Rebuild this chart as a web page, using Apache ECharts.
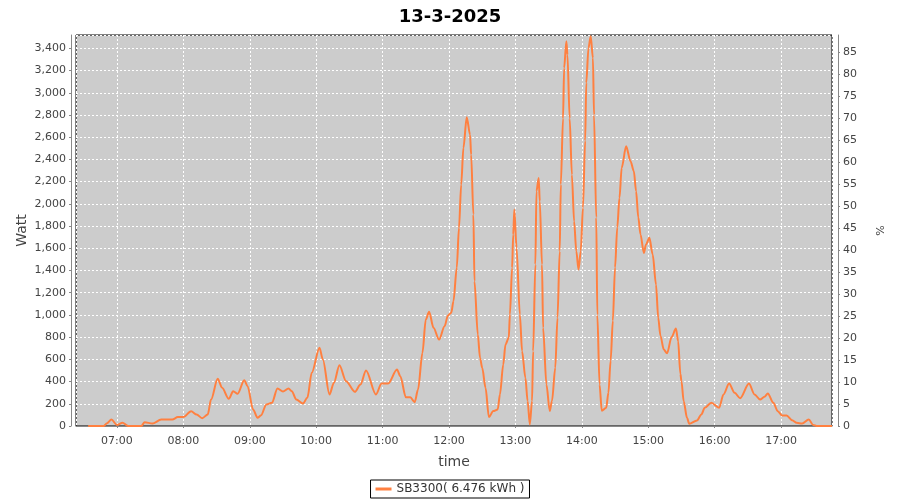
<!DOCTYPE html>
<html>
<head>
<meta charset="utf-8">
<script src="https://cdn.jsdelivr.net/npm/echarts@6/dist/echarts.min.js"></script>
<style>
html,body{margin:0;padding:0;background:#fff;}
#chart{width:900px;height:500px;}
</style>
</head>
<body>
<div id="chart"></div>
<script>
const titleText = '13-3-2025';
const seriesName = 'SB3300( 6.476 kWh )';
const times = ['06:34','06:48','06:51','06:55','07:00','07:05','07:10','07:22','07:25','07:32','07:40','07:50','07:55','08:00','08:07','08:12','08:17','08:22','08:25','08:31','08:35','08:41','08:45','08:49','08:55','08:58','09:03','09:07','09:10','09:15','09:20','09:25','09:30','09:35','09:38','09:42','09:48','09:52','09:56','10:03','10:06','10:12','10:16','10:21','10:27','10:35','10:40','10:45','10:54','10:59','11:05','11:13','11:16','11:21','11:25','11:29','11:32','11:36','11:39','11:42','11:46','11:51','11:56','11:59','12:02','12:04','12:07','12:09','12:11','12:13','12:16','12:19','12:20','12:22','12:23','12:26','12:28','12:30','12:33','12:36','12:40','12:44','12:46','12:49','12:51','12:54','12:55','12:57','12:58','12:59','13:01','13:04','13:06','13:09','13:11','13:13','13:15','13:16','13:18','13:19','13:21','13:22','13:24','13:25','13:28','13:31','13:33','13:36','13:38','13:40','13:41','13:43','13:44','13:46','13:47','13:49','13:51','13:53','13:55','13:57','13:59','14:01','14:03','14:04','14:06','14:08','14:10','14:11','14:13','14:14','14:16','14:18','14:22','14:24','14:26','14:28','14:30','14:32','14:34','14:36','14:40','14:44','14:47','14:49','14:51','14:53','14:56','14:58','15:01','15:04','15:07','15:09','15:11','15:14','15:17','15:21','15:25','15:27','15:29','15:30','15:32','15:35','15:37','15:44','15:48','15:51','15:57','16:04','16:08','16:13','16:18','16:23','16:31','16:36','16:41','16:45','16:48','16:53','16:57','17:01','17:05','17:10','17:14','17:19','17:25','17:29','17:32','17:46'];
const watts = [0,0,25,58,10,30,0,0,34,22,58,58,80,80,133,103,70,103,238,425,344,245,313,290,412,358,148,74,94,194,209,338,310,338,313,238,202,254,479,704,599,284,389,547,403,308,373,500,284,382,382,508,448,259,259,214,328,659,958,1028,884,778,898,995,1019,1123,1424,1784,2173,2504,2779,2623,2443,1904,1303,824,614,524,344,80,134,149,284,554,734,794,1004,1424,1724,1949,1604,1004,674,434,224,14,224,674,1454,2113,2233,2023,1454,884,374,134,224,524,974,1574,2173,2769,3224,3463,3341,2769,2263,1843,1574,1409,1574,1964,2568,3089,3404,3508,3314,2800,1877,1000,374,137,164,299,588,948,1428,1788,2054,2325,2518,2383,2293,2113,1878,1724,1558,1634,1694,1544,1274,974,813,689,654,798,877,763,470,403,223,74,20,50,104,164,209,164,284,382,299,250,382,284,238,263,292,209,133,94,94,52,29,22,58,10,0,0];
const leftTicksMax = 3520;
const rightTicksMax = 89;
const axisStart = '06:23';
const axisEnd = '17:46';

function ts(s){const p=s.split(':').map(Number);return new Date(2025,2,13,p[0],p[1]).getTime();}
function pad(n){return (n<10?'0':'')+n;}
const data = times.map((t,i)=>[ts(t), watts[i]]);

const chart = echarts.init(document.getElementById('chart'));
const labelFont = {color:'#444', fontSize:11, fontFamily:'DejaVu Sans'};
chart.setOption({
  backgroundColor:'#fff',
  animation:false,
  title:{text:titleText,left:'center',top:3,textStyle:{fontFamily:'DejaVu Sans',fontWeight:'bold',fontSize:18,color:'#000'}},
  grid:{left:76,right:68,top:35,bottom:74,show:true,backgroundColor:'#CCCCCC',borderColor:'#000',borderWidth:1},
  legend:{bottom:2,left:'center',data:[seriesName],icon:'rect',itemWidth:16,itemHeight:3,borderColor:'#000',borderWidth:1,padding:[3,5],borderRadius:0,
    textStyle:{fontFamily:'DejaVu Sans',fontSize:12,color:'#333'}},
  xAxis:{type:'time',min:ts(axisStart),max:ts(axisEnd),minInterval:3600000,maxInterval:3600000,offset:5,
    name:'time',nameLocation:'middle',nameGap:24,nameTextStyle:{fontFamily:'DejaVu Sans',fontSize:14,color:'#444'},
    axisLine:{lineStyle:{color:'#888'}},axisTick:{show:true,length:2,lineStyle:{color:'#888'}},
    axisLabel:Object.assign({margin:5,formatter:function(v){const d=new Date(v);return pad(d.getHours())+':'+pad(d.getMinutes());}},labelFont),
    splitLine:{show:true,lineStyle:{color:'#fff',type:[2,2],width:1}}},
  yAxis:[
    {type:'value',min:0,max:leftTicksMax,interval:200,offset:5,position:'left',
     name:'Watt',nameLocation:'middle',nameGap:42,nameMoveOverlap:false,nameTextStyle:{fontFamily:'DejaVu Sans',fontSize:14,color:'#444'},
     axisLine:{show:true,lineStyle:{color:'#888'}},axisTick:{show:true,length:2,lineStyle:{color:'#888'}},
     axisLabel:Object.assign({margin:5,showMaxLabel:false},labelFont),
     splitLine:{show:true,lineStyle:{color:'#fff',type:[2,2],width:1}}},
    {type:'value',min:0,max:rightTicksMax,interval:5,offset:6,position:'right',
     name:'%',nameLocation:'middle',nameGap:38,nameTextStyle:{fontFamily:'DejaVu Sans',fontSize:11,color:'#444'},
     axisLine:{show:true,lineStyle:{color:'#888'}},axisTick:{show:true,length:2,lineStyle:{color:'#888'}},
     axisLabel:Object.assign({margin:5,showMaxLabel:false},labelFont),
     splitLine:{show:false}}
  ],
  series:[{name:seriesName,type:'line',data:data,yAxisIndex:0,showSymbol:false,smooth:0.3,smoothMonotone:'x',
    lineStyle:{color:'#FF8040',width:2},itemStyle:{color:'#FF8040'}}]
});
</script>
</body>
</html>
